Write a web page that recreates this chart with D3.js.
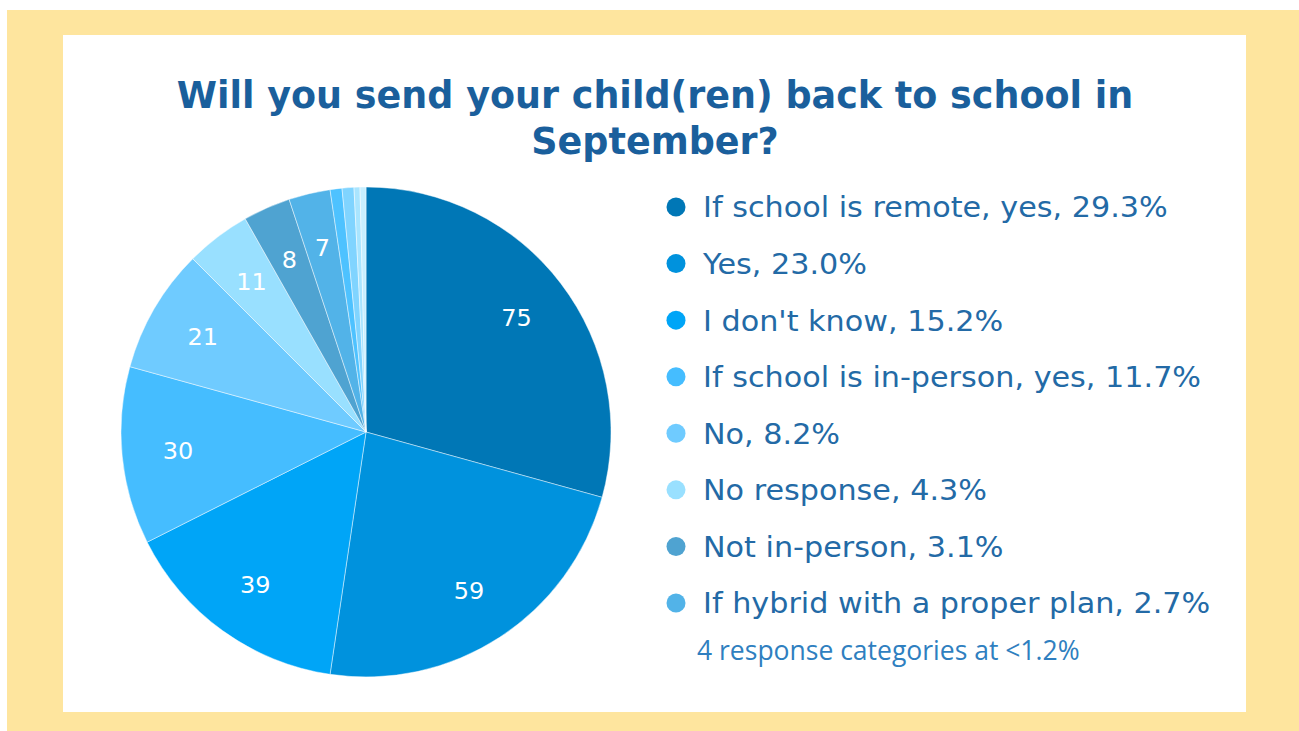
<!DOCTYPE html>
<html><head><meta charset="utf-8">
<script src="https://cdn.jsdelivr.net/npm/d3@7"></script>
<style>html,body{margin:0;padding:0;background:#fff;}svg{display:block;}</style>
</head><body>
<script>
const categories = ["If school is remote, yes","Yes","I don't know","If school is in-person, yes","No","No response","Not in-person","If hybrid with a proper plan","Other 1","Other 2","Other 3","Other 4"];
const values = [75,59,39,30,21,11,8,7,2,2,1,1];
const colors = ["#0077b6","#0092dd","#00a5f7","#45bdff","#6fcbff","#99e0ff","#4fa3d1","#52b3e8","#4ec2ff","#80d4ff","#a9e5ff","#c8efff"];
const legendCount = 8;
const title = ["Will you send your child(ren) back to school in","September?"];
const note = "4 response categories at <1.2%";

const W=1299,H=731;
const svg=d3.select("body").append("svg").attr("width",W).attr("height",H);
svg.append("rect").attr("x",7).attr("y",10).attr("width",W-7).attr("height",H-10).attr("fill","#fee59e");
svg.append("rect").attr("x",63).attr("y",35).attr("width",1183).attr("height",677).attr("fill","#fff");

// title
const TFS=37;
const tmp=svg.append("text").attr("font-family","DejaVu Sans").attr("font-weight","bold").attr("font-size",TFS).text(title[0]);
const sTitle=957/tmp.node().getComputedTextLength(); tmp.remove();
title.forEach((t,i)=>{
  svg.append("text").attr("transform",`translate(655,${108+i*46}) scale(${sTitle},1)`).attr("text-anchor","middle")
    .attr("font-family","DejaVu Sans").attr("font-weight","bold").attr("font-size",TFS)
    .attr("fill","#1a5f9c").text(t);
});

// pie
const cx=366,cy=432,R=245;
const total=d3.sum(values);
const pie=d3.pie().sort(null).value(d=>d)(values);
const arc=d3.arc().innerRadius(0).outerRadius(R);
const g=svg.append("g").attr("transform",`translate(${cx},${cy})`);
g.selectAll("path").data(pie).join("path").attr("d",arc)
  .attr("fill",(d,i)=>colors[i]).attr("stroke","#ffffff").attr("stroke-opacity",0.45).attr("stroke-width",1);
const larc=d3.arc().innerRadius(189).outerRadius(189);
const LFS=29;
const tmp2=svg.append("text").attr("font-family","DejaVu Sans").attr("font-size",LFS).text(categories[0]+", 29.3%");
const sLeg=465/tmp2.node().getComputedTextLength(); tmp2.remove();
g.selectAll("text").data(pie.filter(d=>d.value>=5)).join("text")
  .attr("transform",d=>{const c=larc.centroid(d);return `translate(${c[0]},${c[1]}) scale(${sLeg},1)`;})
  .attr("text-anchor","middle").attr("dy","0.36em")
  .attr("font-family","DejaVu Sans").attr("font-size",23).attr("fill","#fff")
  .text(d=>d.value);

// legend
const lg=svg.append("g");
const rowY=d3.scaleLinear().domain([0,7]).range([207,603]);
for(let i=0;i<legendCount;i++){
  const y=rowY(i);
  lg.append("circle").attr("cx",676).attr("cy",y).attr("r",9.5).attr("fill",colors[i]);
  const pct=(values[i]/total*100).toFixed(1)+"%";
  lg.append("text").attr("transform",`translate(703,${y}) scale(${sLeg},1)`).attr("dy","0.36em")
    .attr("font-family","DejaVu Sans").attr("font-size",LFS).attr("fill","#236aa6")
    .text(categories[i]+", "+pct);
}
svg.append("text").attr("x",697).attr("y",660).attr("font-family","Open Sans").attr("font-size",26.5)
  .attr("fill","#2f7fc0").text(note);
</script>
</body></html>
